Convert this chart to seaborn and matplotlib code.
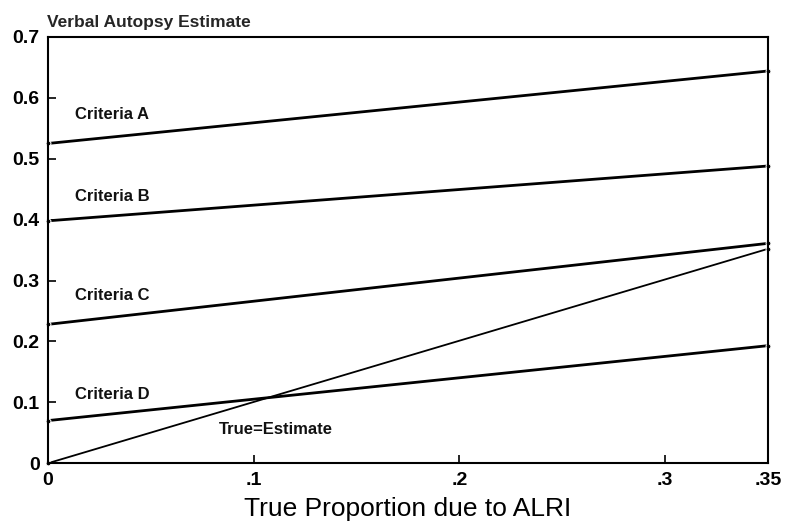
import matplotlib
matplotlib.use("Agg")
import matplotlib.pyplot as plt
import seaborn as sns
import pandas as pd

sns.set_theme(style="white")
plt.rcParams['font.family'] = ['Liberation Sans', 'DejaVu Sans']

x_points = [0.0, 0.35]
criteria_a = [0.525, 0.644]
criteria_b = [0.398, 0.488]
criteria_c = [0.228, 0.361]
criteria_d = [0.070, 0.193]
true_est = [0.0, 0.352]
series_names = ["Criteria A", "Criteria B", "Criteria C", "Criteria D", "True=Estimate"]
label_pos = [(0.013, 0.572), (0.013, 0.438), (0.013, 0.276), (0.013, 0.113), (0.083, 0.056)]
xticks = [0, 0.1, 0.2, 0.3, 0.35]
xticklabels = ["0", ".1", ".2", ".3", ".35"]
yticks = [0, 0.1, 0.2, 0.3, 0.4, 0.5, 0.6, 0.7]
yticklabels = ["0", "0.1", "0.2", "0.3", "0.4", "0.5", "0.6", "0.7"]

rows = []
for name, vals in zip(series_names, [criteria_a, criteria_b, criteria_c, criteria_d, true_est]):
    for xv, yv in zip(x_points, vals):
        rows.append({"x": xv, "y": yv, "series": name})
df = pd.DataFrame(rows)

fig = plt.figure(figsize=(7.86, 5.27), dpi=100)
ax = fig.add_axes([0.061, 0.121, 0.916, 0.809])

widths = {"Criteria A": 2.0, "Criteria B": 2.0, "Criteria C": 2.0, "Criteria D": 2.0, "True=Estimate": 1.3}
for name in series_names:
    sub = df[df["series"] == name]
    sns.lineplot(data=sub, x="x", y="y", ax=ax, color="black", linewidth=widths[name],
                 marker="o", markersize=3.5, legend=False, errorbar=None, clip_on=False)

for name, (lx, ly) in zip(series_names, label_pos):
    ax.text(lx, ly, name, fontsize=12, fontweight="bold", color="#111111", va="center", ha="left")

ax.set_xlim(0, 0.35)
ax.set_ylim(0, 0.7)
ax.set_xticks(xticks)
ax.set_xticklabels(xticklabels)
ax.set_yticks(yticks)
ax.set_yticklabels(yticklabels)
ax.tick_params(axis="both", direction="in", length=6, width=1.2, colors="black",
               labelsize=14, pad=6, bottom=True, left=True)
for lab in ax.get_xticklabels() + ax.get_yticklabels():
    lab.set_fontweight("bold")
for s in ax.spines.values():
    s.set_color("black")
    s.set_linewidth(1.5)
    s.set_visible(True)
ax.set_xlabel("True Proportion due to ALRI", fontsize=19, color="black", labelpad=6)
ax.set_ylabel("")
fig.text(0.060, 0.958, "Verbal Autopsy Estimate", fontsize=12.5, fontweight="bold", ha="left", va="center")

fig.savefig("out.png", dpi=100)
